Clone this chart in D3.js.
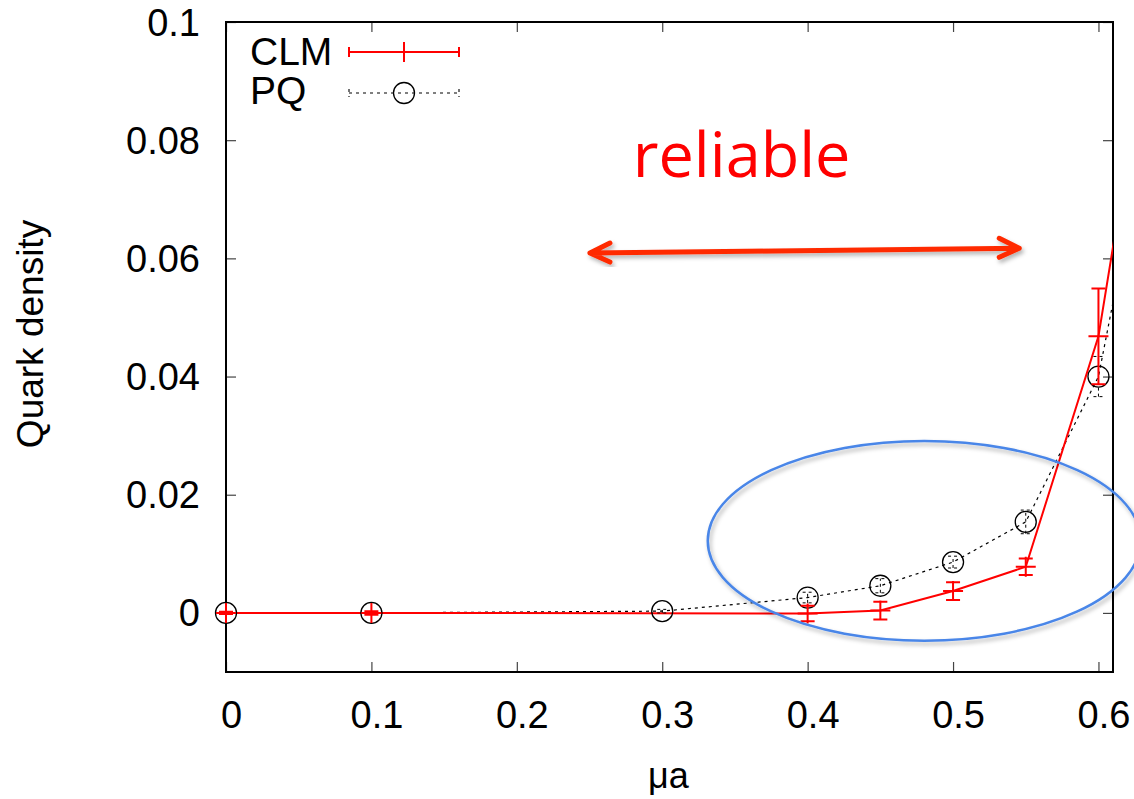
<!DOCTYPE html>
<html lang='en'>
  <head>
    <meta charset='utf-8'>
    <title>Quark density vs mu a</title>
    <script src='https://cdn.jsdelivr.net/npm/d3@7'></script>
    <style>
      body { margin: 0; background: #fff; }
      svg text { font-family: 'Liberation Sans', Arial, Helvetica, sans-serif; }
    </style>
  </head>
  <body>
    <div id='chart'></div>
    <script type='text/javascript'>

      // CLM data (red, with error bars); last point lies past the frame
      var muCLM   = [0, 0.1, 0.4, 0.45, 0.5, 0.55, 0.6, 0.65];
      var densCLM = [0, 0, -0.0001, 0.0004, 0.0037, 0.0078, 0.0468, 0.1225];
      var errCLM  = [0.0002, 0.0003, 0.0013, 0.0015, 0.0015, 0.0014, 0.0081, 0.01];

      // PQ data (black dashed, circles)
      var muPQ   = [0, 0.1, 0.3, 0.4, 0.45, 0.5, 0.55, 0.6, 0.65];
      var densPQ = [0, 0, 0.0003, 0.0026, 0.0046, 0.0086, 0.0154, 0.0400, 0.1028];
      var errPQ  = [0, 0, 0.0003, 0.0009, 0.0012, 0.001, 0.002, 0.0034, 0.005];

      // ticks
      var xTicks = [0, 0.1, 0.2, 0.3, 0.4, 0.5, 0.6];
      var yTicks = [0, 0.02, 0.04, 0.06, 0.08, 0.1];

      var svgWidth = 1134;
      var svgHeight = 799;

      var plotLeft = 226;
      var plotTop = 22;
      var plotRight = 1113;
      var plotBottom = 672;

      var svg = d3.select('#chart').append('svg')
                  .attr('width', svgWidth)
                  .attr('height', svgHeight);

      var defs = svg.append('defs');
      defs.append('clipPath').attr('id', 'plotClip')
          .append('rect')
          .attr('x', plotLeft).attr('y', plotTop)
          .attr('width', plotRight - plotLeft).attr('height', plotBottom - plotTop);

      var shadow = defs.append('filter').attr('id', 'shadow')
                       .attr('x', '-20%').attr('y', '-20%')
                       .attr('width', '140%').attr('height', '140%');
      shadow.append('feDropShadow')
            .attr('dx', 2).attr('dy', 3)
            .attr('stdDeviation', 2)
            .attr('flood-color', '#000')
            .attr('flood-opacity', 0.3);

      // scales
      var xScale = d3.scaleLinear().domain([0, 0.61]).range([plotLeft, plotRight]);
      var yScale = d3.scaleLinear().domain([-0.01, 0.1]).range([plotBottom, plotTop]);

      function fmt(d) { return String(+d.toFixed(2)); }

      // axes with inward ticks, mirrored on top and right
      var xAxis = svg.append('g')
                     .attr('transform', 'translate(0,' + plotBottom + ')')
                     .call(d3.axisBottom(xScale).tickValues(xTicks)
                           .tickSizeInner(-10).tickSizeOuter(0).tickFormat(fmt));
      xAxis.selectAll('text')
           .attr('y', 56).attr('dy', 0).attr('dx', 5)
           .style('font-size', '38px').attr('fill', '#000');

      svg.append('g')
         .attr('transform', 'translate(0,' + plotTop + ')')
         .call(d3.axisTop(xScale).tickValues(xTicks)
               .tickSizeInner(-10).tickSizeOuter(0).tickFormat(''));

      var yAxis = svg.append('g')
                     .attr('transform', 'translate(' + plotLeft + ',0)')
                     .call(d3.axisLeft(yScale).tickValues(yTicks)
                           .tickSizeInner(-10).tickSizeOuter(0).tickFormat(fmt));
      yAxis.selectAll('text')
           .attr('x', -26).attr('dy', 13)
           .style('font-size', '38px').attr('fill', '#000');

      svg.append('g')
         .attr('transform', 'translate(' + plotRight + ',0)')
         .call(d3.axisRight(yScale).tickValues(yTicks)
               .tickSizeInner(-10).tickSizeOuter(0).tickFormat(''));

      svg.selectAll('.domain').remove();
      svg.selectAll('.tick line').attr('stroke', '#444').attr('stroke-width', 1.2);

      // frame
      svg.append('rect')
         .attr('x', plotLeft).attr('y', plotTop)
         .attr('width', plotRight - plotLeft).attr('height', plotBottom - plotTop)
         .attr('fill', 'none').attr('stroke', '#000').attr('stroke-width', 2);

      // axis labels
      svg.append('text')
         .text('\u03bca')
         .attr('x', (plotLeft + plotRight) / 2 - 1).attr('y', 788)
         .attr('text-anchor', 'middle')
         .style('font-size', '36px');

      svg.append('text')
         .text('Quark density')
         .attr('transform', 'translate(43,334) rotate(-90)')
         .attr('text-anchor', 'middle')
         .style('font-size', '37px');

      var plot = svg.append('g');
      var lines = plot.append('g').attr('clip-path', 'url(#plotClip)');

      var pqData = muPQ.map(function(m, i) { return {x: m, y: densPQ[i], e: errPQ[i]}; });
      var clmData = muCLM.map(function(m, i) { return {x: m, y: densCLM[i], e: errCLM[i]}; });
      var inside = function(d) { return d.x <= xScale.domain()[1]; };

      var line = d3.line()
                   .x(function(d) { return xScale(d.x); })
                   .y(function(d) { return yScale(d.y); });

      // PQ dashed line
      lines.append('path')
           .datum(pqData)
           .attr('d', line)
           .attr('fill', 'none')
           .attr('stroke', '#000')
           .attr('stroke-width', 1.2)
           .attr('stroke-dasharray', '3,4');

      // PQ error bars
      plot.selectAll('.pqErr').data(pqData.filter(inside)).enter()
          .append('path')
          .attr('class', 'pqErr')
          .attr('d', function(d) {
            var cx = xScale(d.x), y0 = yScale(d.y - d.e), y1 = yScale(d.y + d.e);
            return 'M' + cx + ',' + y0 + 'V' + y1 +
                   'M' + (cx - 5) + ',' + y0 + 'H' + (cx + 5) +
                   'M' + (cx - 5) + ',' + y1 + 'H' + (cx + 5);
          })
          .attr('fill', 'none')
          .attr('stroke', '#000')
          .attr('stroke-width', 1)
          .attr('stroke-dasharray', '3,3');

      // PQ circles
      plot.selectAll('.pqPt').data(pqData.filter(inside)).enter()
          .append('circle')
          .attr('class', 'pqPt')
          .attr('cx', function(d) { return xScale(d.x); })
          .attr('cy', function(d) { return yScale(d.y); })
          .attr('r', 10.5)
          .attr('fill', 'none')
          .attr('stroke', '#000')
          .attr('stroke-width', 1.3);

      // CLM red line
      lines.append('path')
           .datum(clmData)
           .attr('d', line)
           .attr('fill', 'none')
           .attr('stroke', '#ff0000')
           .attr('stroke-width', 2);

      // CLM error bars and + markers
      plot.selectAll('.clmErr').data(clmData.filter(inside)).enter()
          .append('path')
          .attr('class', 'clmErr')
          .attr('d', function(d) {
            var cx = xScale(d.x), cy = yScale(d.y);
            var y0 = yScale(d.y - d.e), y1 = yScale(d.y + d.e);
            return 'M' + cx + ',' + y0 + 'V' + y1 +
                   'M' + (cx - 7) + ',' + y0 + 'H' + (cx + 7) +
                   'M' + (cx - 7) + ',' + y1 + 'H' + (cx + 7) +
                   'M' + (cx - 10) + ',' + cy + 'H' + (cx + 10) +
                   'M' + cx + ',' + (cy - 10) + 'V' + (cy + 10);
          })
          .attr('fill', 'none')
          .attr('stroke', '#ff0000')
          .attr('stroke-width', 2);

      // legend
      var legend = svg.append('g');
      legend.append('text').text('CLM')
            .attr('x', 250).attr('y', 65).style('font-size', '39px');
      legend.append('text').text('PQ')
            .attr('x', 250).attr('y', 104).style('font-size', '39px');

      legend.append('path')
            .attr('d', 'M349,52H459M349,47V57M459,47V57M393,52H415M404,42V62')
            .attr('fill', 'none').attr('stroke', '#ff0000').attr('stroke-width', 2);
      legend.append('path')
            .attr('d', 'M349,93H459M349,89V97M459,89V97')
            .attr('fill', 'none').attr('stroke', '#000').attr('stroke-width', 1.1)
            .attr('stroke-dasharray', '3,4');
      legend.append('circle')
            .attr('cx', 404).attr('cy', 93).attr('r', 10.5)
            .attr('fill', 'none').attr('stroke', '#000').attr('stroke-width', 1.3);

      // annotations: text, double arrow and blue ellipse
      var notes = svg.append('g');

      notes.append('text')
           .text('reliable')
           .attr('x', xScale(0.2797)).attr('y', yScale(0.0738))
           .style('font-family', "'Open Sans', sans-serif")
           .style('font-size', '63px')
           .attr('fill', '#ff0000');

      var ax0 = xScale(0.2503), ay0 = yScale(0.0609);
      var ax1 = xScale(0.5455), ay1 = yScale(0.0617);
      notes.append('path')
           .attr('d', 'M' + ax0 + ',' + ay0 + 'L' + ax1 + ',' + ay1 +
                      'M' + (ax0 + 20) + ',' + (ay0 - 10) + 'L' + ax0 + ',' + ay0 + 'L' + (ax0 + 20) + ',' + (ay0 + 9) +
                      'M' + (ax1 - 20) + ',' + (ay1 - 10) + 'L' + ax1 + ',' + ay1 + 'L' + (ax1 - 20) + ',' + (ay1 + 9))
           .attr('fill', 'none')
           .attr('stroke', '#ff2a00')
           .attr('stroke-width', 5)
           .attr('stroke-linecap', 'round')
           .attr('stroke-linejoin', 'round')
           .attr('filter', 'url(#shadow)');

      var ecx = xScale(0.4802), ecy = yScale(0.0122);
      notes.append('ellipse')
           .attr('cx', ecx).attr('cy', ecy)
           .attr('rx', xScale(0.1489) - xScale(0))
           .attr('ry', yScale(0) - yScale(0.0169))
           .attr('fill', 'none')
           .attr('stroke', '#4a86e8')
           .attr('stroke-width', 2.5)
           .attr('filter', 'url(#shadow)');

    </script>
  </body>
</html>
